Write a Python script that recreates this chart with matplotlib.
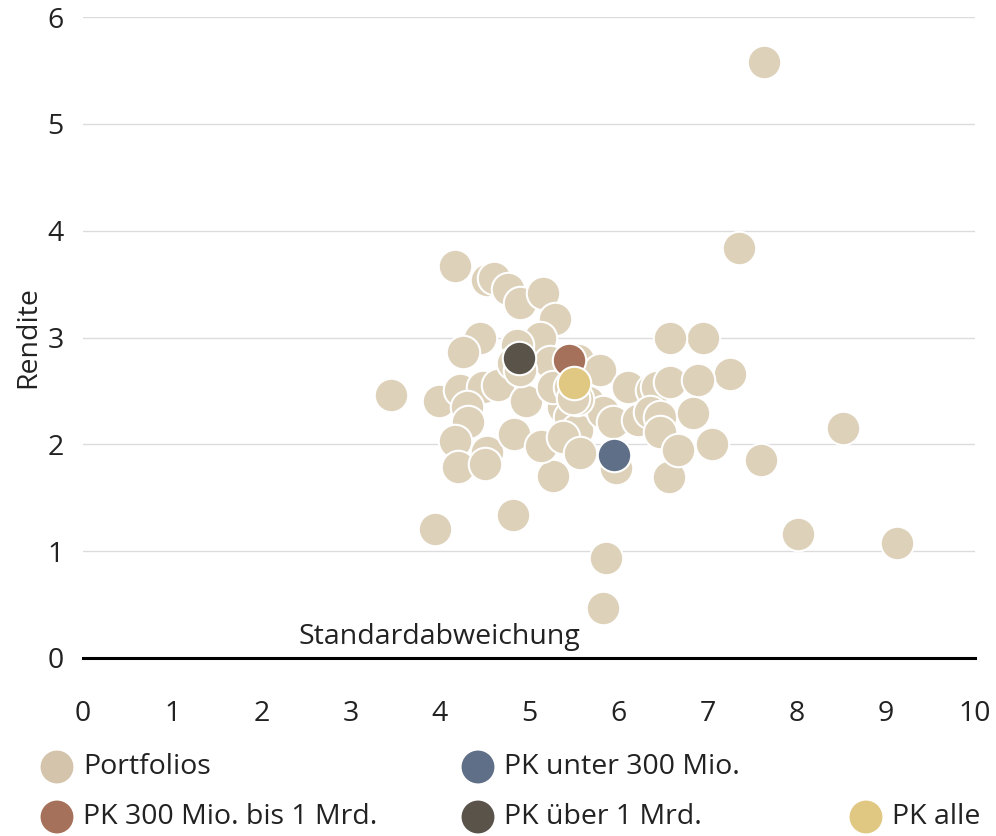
import matplotlib
matplotlib.use("Agg")
import matplotlib.pyplot as plt

plt.rcParams['font.family'] = ['Open Sans', 'DejaVu Sans']

# Portfolios (Standardabweichung, Rendite)
port_x = [7.63, 7.35, 3.45, 8.52, 7.60, 7.05, 7.25, 6.95, 6.58, 8.02, 9.13, 3.95, 4.82,
          5.86, 5.83, 4.17, 3.99, 6.57, 5.27, 4.53, 4.61, 4.76, 4.90, 5.16, 5.29, 4.45,
          4.26, 5.12, 5.24, 5.55, 5.80, 5.66, 4.23, 4.48, 4.65, 4.30, 4.32, 4.17, 4.53,
          4.20, 4.51, 4.97, 4.83, 5.13, 5.38, 5.46, 5.54, 5.38, 5.57, 5.83, 5.94, 5.98,
          6.11, 6.22, 6.38, 6.43, 6.58, 6.36, 6.47, 6.47, 6.89, 6.84, 6.67, 5.27, 5.54,
          5.46, 5.49, 4.87, 4.82, 4.90]
port_y = [5.58, 3.84, 2.46, 2.15, 1.85, 2.00, 2.66, 3.00, 3.00, 1.16, 1.08, 1.21, 1.34,
          0.94, 0.47, 3.67, 2.41, 1.69, 1.70, 3.54, 3.56, 3.45, 3.32, 3.42, 3.17, 3.00,
          2.86, 3.00, 2.77, 2.79, 2.70, 2.40, 2.51, 2.54, 2.56, 2.35, 2.21, 2.03, 1.93,
          1.79, 1.82, 2.41, 2.10, 1.98, 2.35, 2.26, 2.13, 2.07, 1.92, 2.30, 2.21, 1.78,
          2.54, 2.23, 2.51, 2.54, 2.58, 2.30, 2.26, 2.12, 2.60, 2.29, 1.95, 2.54, 2.42,
          2.54, 2.43, 2.93, 2.76, 2.70]

# Pensionskassen
pk_labels = ['PK unter 300 Mio.', 'PK 300 Mio. bis 1 Mrd.', 'PK über 1 Mrd.', 'PK alle']
pk_x = [5.95, 5.45, 4.89, 5.50]
pk_y = [1.90, 2.79, 2.81, 2.57]
pk_colors = ['#5f6f88', '#a6715a', '#59534a', '#e0c882']

port_color = '#ddd1ba'
port_legend_color = '#d4c4ac'
txt_color = '#222222'
fs = 20.5

fig = plt.figure(figsize=(9.96, 8.36), dpi=100)
ax = fig.add_axes([83 / 996, 1 - 658 / 836, 892 / 996, 641 / 836])

ax.scatter(port_x, port_y, s=580, color=port_color, edgecolor='white',
           linewidth=1.5, zorder=3, clip_on=False)
for x, y, c in zip(pk_x, pk_y, pk_colors):
    ax.scatter([x], [y], s=580, color=c, edgecolor='white', linewidth=1.5,
               zorder=4, clip_on=False)

ax.set_xlim(0, 10)
ax.set_ylim(0, 6)
ax.set_xticks(range(0, 11))
ax.set_yticks(range(0, 7))
ax.grid(axis='y', color='#dcdcdc', linewidth=1)
ax.grid(axis='x', visible=False)
ax.set_axisbelow(True)
for side in ['top', 'right', 'left']:
    ax.spines[side].set_visible(False)
ax.spines['bottom'].set_linewidth(2.2)
ax.spines['bottom'].set_color('black')
ax.spines['bottom'].set_zorder(5)
ax.tick_params(axis='x', length=0, pad=30, labelsize=fs, colors=txt_color)
ax.tick_params(axis='y', length=0, pad=14, labelsize=fs, colors=txt_color)
ax.set_ylabel('Rendite', fontsize=fs, color=txt_color, labelpad=4)
ax.text(4.0, 0.07, 'Standardabweichung', fontsize=fs, color=txt_color,
        ha='center', va='bottom')

# legend in figure pixel coordinates
lax = fig.add_axes([0, 0, 1, 1], facecolor='none')
lax.set_xlim(0, 996)
lax.set_ylim(836, 0)
lax.axis('off')
leg_labels = ['Portfolios', 'PK unter 300 Mio.', 'PK 300 Mio. bis 1 Mrd.', 'PK über 1 Mrd.', 'PK alle']
leg_colors = [port_legend_color, pk_colors[0], pk_colors[1], pk_colors[2], pk_colors[3]]
leg_x = [57, 478, 57, 478, 866]
leg_y = [767, 767, 817, 817, 817]
for lx, ly, lab, c in zip(leg_x, leg_y, leg_labels, leg_colors):
    lax.scatter([lx], [ly], s=560, color=c, edgecolor='none')
    lax.text(lx + 26, ly, lab, fontsize=fs, color=txt_color, va='center', ha='left')

fig.savefig('out.png', dpi=100)
